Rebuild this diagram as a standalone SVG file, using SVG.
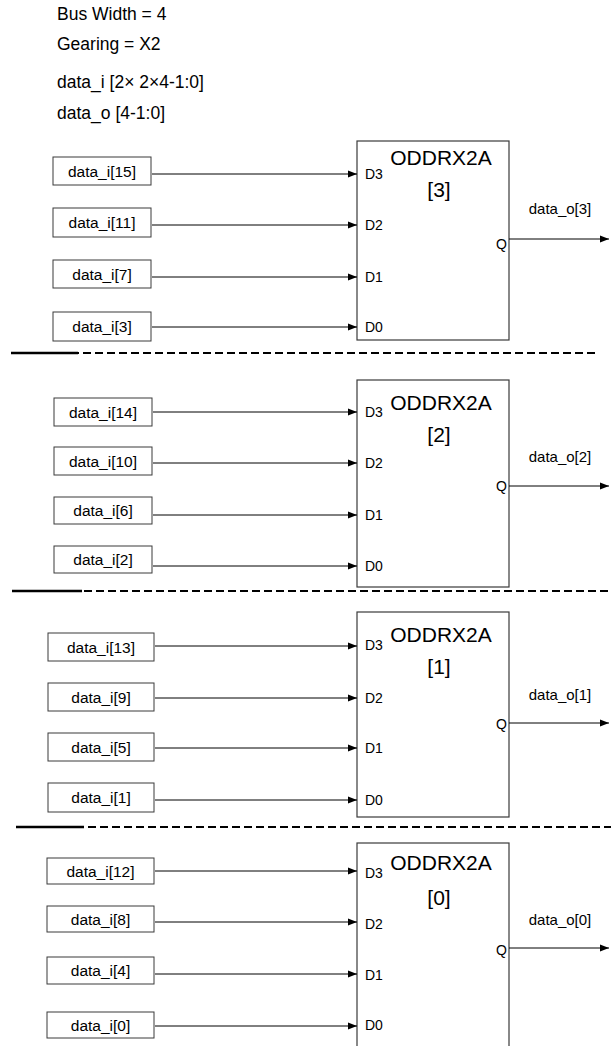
<svg xmlns="http://www.w3.org/2000/svg" width="611" height="1046" viewBox="0 0 611 1046">
<defs>
<marker id="arr" markerUnits="userSpaceOnUse" markerWidth="9" markerHeight="8" refX="9" refY="3.5" orient="auto" viewBox="0 0 9 7">
<path d="M0,0 L9,3.5 L0,7 z" fill="#000"/>
</marker>
<style>
text{font-family:"Liberation Sans",Arial,sans-serif;fill:#000}
.hdr{font-size:17.5px}
.in{font-size:15.5px;text-anchor:middle}
.box{fill:#fff;stroke:#3a3a3a;stroke-width:1}
.blk{fill:#fff;stroke:#3a3a3a;stroke-width:1.2}
.pin{font-size:14px}
.q{font-size:14px;text-anchor:end}
.title{font-size:21px;text-anchor:middle}
.out{font-size:15px;text-anchor:middle}
.wire{stroke:#000;stroke-width:1;fill:none;marker-end:url(#arr)}
.dash{stroke:#000;stroke-width:2;stroke-dasharray:8 4;fill:none}
.solid{stroke:#000;stroke-width:2.4;fill:none}
</style>
</defs>
<rect width="611" height="1046" fill="#fff"/>

<g id="header">
<text class="hdr" x="57" y="20">Bus Width = 4</text>
<text class="hdr" x="57" y="50">Gearing = X2</text>
<text class="hdr" x="57" y="88">data_i [2× 2×4-1:0]</text>
<text class="hdr" x="57" y="119">data_o [4-1:0]</text>
</g>

<g id="separators">
<line class="dash" x1="11" y1="353" x2="598" y2="353"/>
<line class="solid" x1="11" y1="353" x2="78" y2="353"/>
<line class="dash" x1="12" y1="591" x2="611" y2="591"/>
<line class="solid" x1="12" y1="591" x2="82" y2="591"/>
<line class="dash" x1="16" y1="827" x2="611" y2="827"/>
<line class="solid" x1="16" y1="827" x2="84" y2="827"/>
</g>

<!-- Section 3 -->
<g id="oddr3">
<rect class="blk" x="357" y="141" width="152" height="199"/>
<text class="title" x="441" y="165">ODDRX2A</text>
<text class="title" x="439" y="197">[3]</text>
<text class="pin" x="365" y="179">D3</text>
<text class="pin" x="365" y="230">D2</text>
<text class="pin" x="365" y="282">D1</text>
<text class="pin" x="365" y="332">D0</text>
<text class="q" x="507" y="249">Q</text>
</g>
<g id="in15"><rect class="box" x="53" y="157" width="98" height="28"/><text class="in" x="102" y="177">data_i[15]</text></g>
<g id="in11"><rect class="box" x="53" y="208" width="98" height="29"/><text class="in" x="102" y="228">data_i[11]</text></g>
<g id="in7"><rect class="box" x="53" y="260" width="98" height="28"/><text class="in" x="102" y="280">data_i[7]</text></g>
<g id="in3"><rect class="box" x="53" y="312" width="98" height="29"/><text class="in" x="102" y="332">data_i[3]</text></g>
<g id="out3"><text class="out" x="560" y="214">data_o[3]</text></g>

<!-- Section 2 -->
<g id="oddr2">
<rect class="blk" x="357" y="380" width="152" height="207"/>
<text class="title" x="441" y="410">ODDRX2A</text>
<text class="title" x="439" y="442">[2]</text>
<text class="pin" x="365" y="417">D3</text>
<text class="pin" x="365" y="468">D2</text>
<text class="pin" x="365" y="520">D1</text>
<text class="pin" x="365" y="571">D0</text>
<text class="q" x="507" y="491">Q</text>
</g>
<g id="in14"><rect class="box" x="54" y="398" width="98" height="28"/><text class="in" x="103" y="418">data_i[14]</text></g>
<g id="in10"><rect class="box" x="54" y="447" width="98" height="28"/><text class="in" x="103" y="467">data_i[10]</text></g>
<g id="in6"><rect class="box" x="54" y="497" width="98" height="27"/><text class="in" x="103" y="516">data_i[6]</text></g>
<g id="in2"><rect class="box" x="54" y="546" width="98" height="27"/><text class="in" x="103" y="565">data_i[2]</text></g>
<g id="out2"><text class="out" x="560" y="462">data_o[2]</text></g>

<!-- Section 1 -->
<g id="oddr1">
<rect class="blk" x="357" y="612" width="152" height="205"/>
<text class="title" x="441" y="642">ODDRX2A</text>
<text class="title" x="439" y="674">[1]</text>
<text class="pin" x="365" y="650">D3</text>
<text class="pin" x="365" y="703">D2</text>
<text class="pin" x="365" y="753">D1</text>
<text class="pin" x="365" y="805">D0</text>
<text class="q" x="507" y="729">Q</text>
</g>
<g id="in13"><rect class="box" x="48" y="633" width="106" height="28"/><text class="in" x="101" y="653">data_i[13]</text></g>
<g id="in9"><rect class="box" x="48" y="683" width="106" height="28"/><text class="in" x="101" y="703">data_i[9]</text></g>
<g id="in5"><rect class="box" x="48" y="733" width="106" height="28"/><text class="in" x="101" y="753">data_i[5]</text></g>
<g id="in1"><rect class="box" x="48" y="783" width="106" height="29"/><text class="in" x="101" y="803">data_i[1]</text></g>
<g id="out1"><text class="out" x="560" y="700">data_o[1]</text></g>

<!-- Section 0 -->
<g id="oddr0">
<rect class="blk" x="357" y="843" width="152" height="210"/>
<text class="title" x="441" y="870">ODDRX2A</text>
<text class="title" x="439" y="905">[0]</text>
<text class="pin" x="365" y="878">D3</text>
<text class="pin" x="365" y="929">D2</text>
<text class="pin" x="365" y="980">D1</text>
<text class="pin" x="365" y="1030">D0</text>
<text class="q" x="507" y="955">Q</text>
</g>
<g id="in12"><rect class="box" x="47" y="858" width="107" height="26"/><text class="in" x="100.5" y="877">data_i[12]</text></g>
<g id="in8"><rect class="box" x="47" y="906" width="107" height="26"/><text class="in" x="100.5" y="925">data_i[8]</text></g>
<g id="in4"><rect class="box" x="47" y="957" width="107" height="27"/><text class="in" x="100.5" y="976">data_i[4]</text></g>
<g id="in0"><rect class="box" x="47" y="1012" width="107" height="26"/><text class="in" x="100.5" y="1031">data_i[0]</text></g>
<g id="out0"><text class="out" x="560" y="925">data_o[0]</text></g>

<g id="connectors">
<line class="wire" x1="152" y1="174" x2="357" y2="174"/>
<line class="wire" x1="152" y1="225" x2="357" y2="225"/>
<line class="wire" x1="152" y1="277" x2="357" y2="277"/>
<line class="wire" x1="152" y1="327" x2="357" y2="327"/>
<line class="wire" x1="509" y1="239" x2="609" y2="239"/>

<line class="wire" x1="153" y1="412" x2="357" y2="412"/>
<line class="wire" x1="153" y1="463" x2="357" y2="463"/>
<line class="wire" x1="153" y1="515" x2="357" y2="515"/>
<line class="wire" x1="153" y1="566" x2="357" y2="566"/>
<line class="wire" x1="509" y1="486" x2="609" y2="486"/>

<line class="wire" x1="155" y1="646" x2="357" y2="646"/>
<line class="wire" x1="155" y1="698" x2="357" y2="698"/>
<line class="wire" x1="155" y1="748" x2="357" y2="748"/>
<line class="wire" x1="155" y1="800" x2="357" y2="800"/>
<line class="wire" x1="509" y1="723" x2="609" y2="723"/>

<line class="wire" x1="155" y1="871" x2="357" y2="871"/>
<line class="wire" x1="155" y1="922" x2="357" y2="922"/>
<line class="wire" x1="155" y1="974" x2="357" y2="974"/>
<line class="wire" x1="155" y1="1026" x2="357" y2="1026"/>
<line class="wire" x1="509" y1="948" x2="609" y2="948"/>
</g>
</svg>
